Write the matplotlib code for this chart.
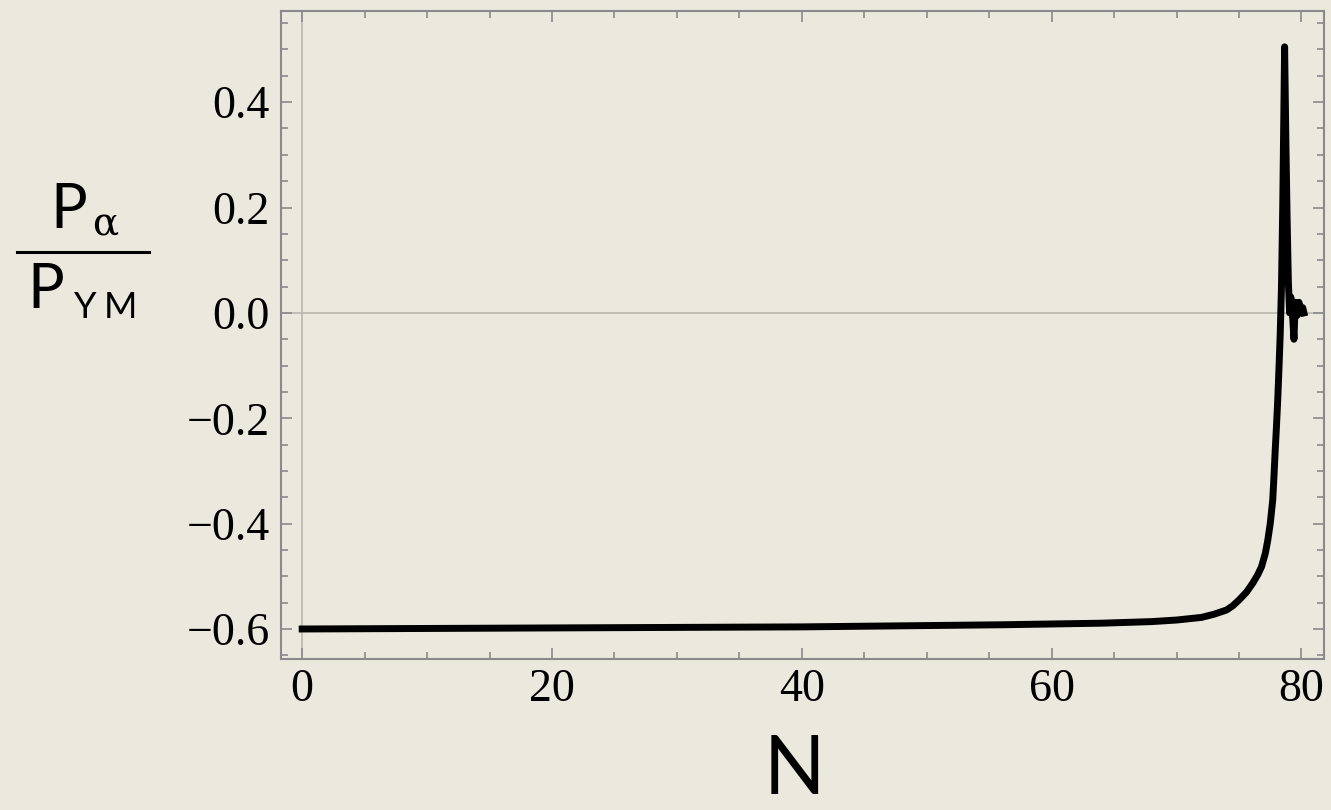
import matplotlib
matplotlib.use("Agg")
import matplotlib.pyplot as plt
import numpy as np
from matplotlib.ticker import MultipleLocator, FuncFormatter

# curve values
n_vals = [0, 10, 20, 30, 40, 48, 56, 64, 68, 70, 72, 73, 74, 74.5, 75, 75.6, 76.1, 76.5,
          76.8, 77.1, 77.3, 77.5, 77.7, 77.8, 77.9, 78.0, 78.1, 78.2, 78.3, 78.4, 78.5,
          78.58, 78.65, 78.75, 78.85, 78.95, 79.05, 79.15, 79.3, 79.4, 79.5, 79.65, 79.8,
          79.95, 80.1, 80.2]
p_ratio = [-0.600, -0.599, -0.598, -0.597, -0.596, -0.594, -0.592, -0.589, -0.586,
           -0.583, -0.578, -0.572, -0.564, -0.556, -0.545, -0.530, -0.513, -0.497,
           -0.482, -0.457, -0.432, -0.40, -0.355, -0.31, -0.26, -0.215, -0.165, -0.105,
           -0.04, 0.05, 0.20, 0.36, 0.505, 0.33, 0.18, 0.06, 0.0, 0.03, -0.01, -0.05, 0.02,
           -0.005, 0.02, 0.0, 0.01, 0.0]

bg = '#ebe9de'
fig = plt.figure(figsize=(13.31, 8.10), dpi=100, facecolor=bg)
ax = fig.add_axes([0.2111, 0.1864, 0.7836, 0.8])
ax.set_facecolor(bg)

ax.axhline(0, color='#b8b8b0', lw=1.2, zorder=1)
ax.axvline(0, color='#b8b8b0', lw=1.2, zorder=1)
ax.plot(n_vals, p_ratio, color='black', lw=5.0, solid_joinstyle='round', zorder=3)

ax.set_xlim(-1.7, 81.8)
ax.set_ylim(-0.657, 0.573)

ax.xaxis.set_major_locator(MultipleLocator(20))
ax.xaxis.set_minor_locator(MultipleLocator(5))
ax.yaxis.set_major_locator(MultipleLocator(0.2))
ax.yaxis.set_minor_locator(MultipleLocator(0.05))
ax.yaxis.set_major_formatter(FuncFormatter(lambda v, p: ('%.1f' % v).replace('-', '\u2212')))

for s in ax.spines.values():
    s.set_color('#8a8a8a')
    s.set_linewidth(1.5)

ax.tick_params(which='both', direction='in', top=True, right=True, color='#8a8a8a', width=1.2)
ax.tick_params(which='major', length=8)
ax.tick_params(which='minor', length=5)
ax.tick_params(axis='both', labelsize=33)
ax.tick_params(axis='x', pad=7)
ax.tick_params(axis='y', pad=8)
for lab in ax.get_xticklabels() + ax.get_yticklabels():
    lab.set_family('Liberation Serif')

# axis labels
fig.text(0.597, 0.003, 'N', fontsize=58, family='Lato', ha='center', va='bottom')

fig.text(0.0515, 0.7185, 'P', fontsize=44, family='Lato', ha='center', va='baseline')
fig.text(0.0793, 0.7099, '\u03b1', fontsize=28, family='DejaVu Serif', ha='center', va='baseline')
fig.add_artist(plt.Line2D([0.0128, 0.1119], [0.6889, 0.6889], color='black', lw=2.2,
                          transform=fig.transFigure))
fig.text(0.0346, 0.6198, 'P', fontsize=44, family='Lato', ha='center', va='baseline')
fig.text(0.0639, 0.6074, 'Y', fontsize=26, family='Lato', ha='center', va='baseline')
fig.text(0.0902, 0.6074, 'M', fontsize=26, family='Lato', ha='center', va='baseline')

fig.savefig('out.png', dpi=100, facecolor=bg)
